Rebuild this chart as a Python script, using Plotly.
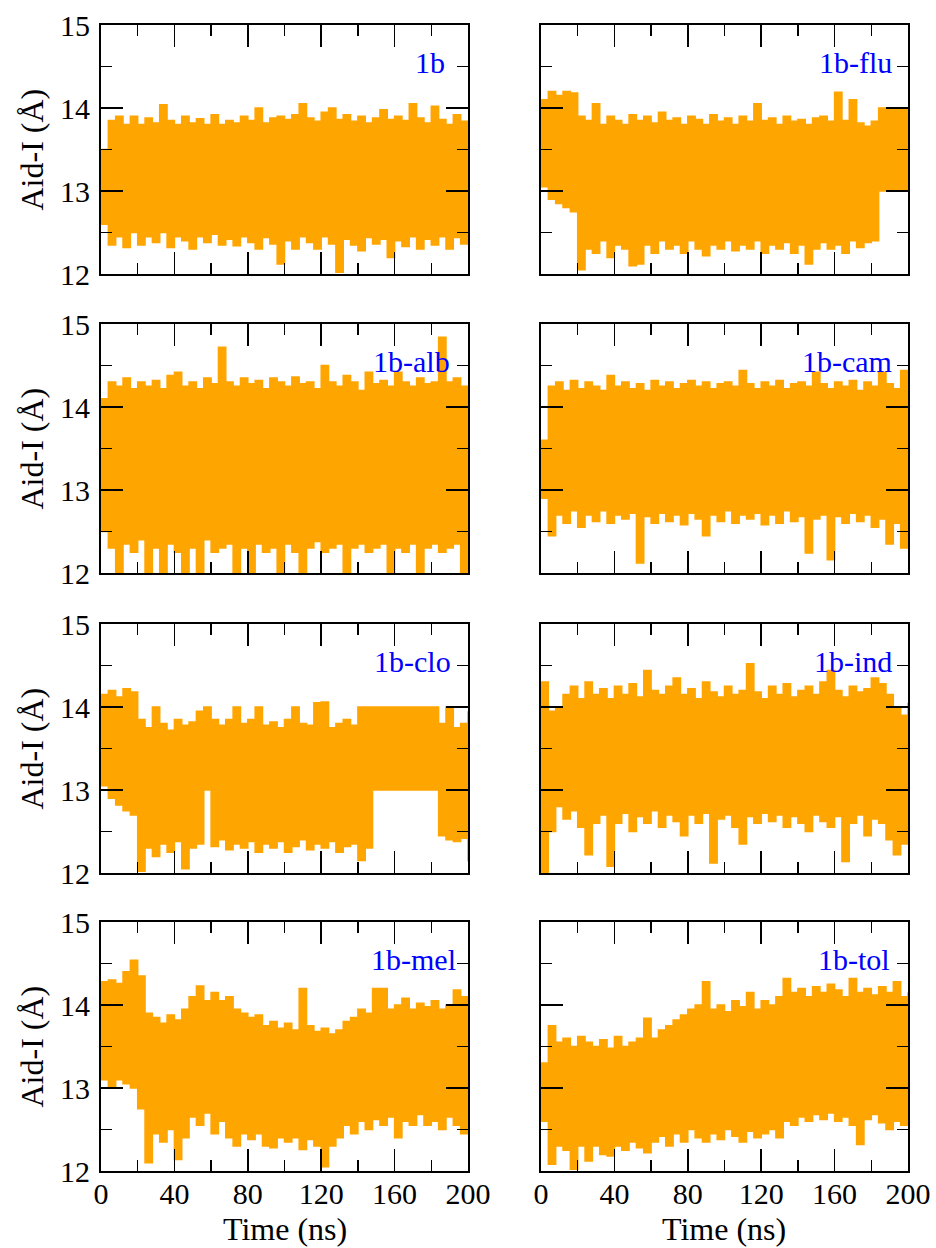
import plotly.graph_objects as go

# ---------------- data ----------------
TIME = list(range(0, 201, 4))  # ns

NAMES = ["1b", "1b-flu", "1b-alb", "1b-cam", "1b-clo", "1b-ind", "1b-mel", "1b-tol"]

hi_1b = [13.5, 13.85, 13.9, 13.8, 13.9, 13.8, 13.88, 13.82, 14.04, 13.85,
         13.8, 13.9, 13.82, 13.87, 13.8, 13.92, 13.8, 13.85, 13.82, 13.9,
         13.85, 14.0, 13.82, 13.88, 13.9, 13.86, 13.92, 14.05, 13.88, 13.84,
         13.95, 14.0, 13.86, 13.92, 13.84, 13.9, 13.82, 13.88, 13.98, 13.86,
         13.9, 13.85, 14.05, 13.88, 13.82, 14.02, 13.86, 13.8, 13.92, 13.84,
         13.82]
lo_1b = [12.6, 12.35, 12.45, 12.32, 12.5, 12.35, 12.45, 12.38, 12.5, 12.32,
         12.45, 12.4, 12.3, 12.45, 12.38, 12.48, 12.35, 12.42, 12.34, 12.45,
         12.38, 12.3, 12.44, 12.36, 12.12, 12.4, 12.3, 12.45, 12.38, 12.3,
         12.45, 12.36, 12.02, 12.42, 12.35, 12.28, 12.44, 12.36, 12.42, 12.2,
         12.4, 12.33, 12.45, 12.3, 12.42, 12.35, 12.45, 12.3, 12.44, 12.36,
         12.5]

hi_flu = [14.1, 14.2, 14.15, 14.2, 14.18, 13.9, 13.85, 14.05, 13.8, 13.9,
          13.85, 13.8, 13.92, 13.85, 13.9, 13.82, 13.95, 13.85, 13.88, 13.8,
          13.9, 13.86, 13.8, 13.92, 13.84, 13.88, 13.8, 13.9, 13.84, 14.05,
          13.85, 13.88, 13.8, 13.9, 13.84, 13.86, 13.8, 13.88, 13.9, 13.84,
          14.19, 13.85, 14.1, 13.82, 13.78, 13.84, 14.0, 14.0, 14.0, 14.0,
          14.0]
lo_flu = [13.05, 12.9, 12.85, 12.8, 12.75, 12.05, 12.3, 12.25, 12.4, 12.2,
          12.35, 12.3, 12.1, 12.12, 12.35, 12.25, 12.4, 12.3, 12.35, 12.25,
          12.4, 12.3, 12.22, 12.35, 12.3, 12.4, 12.28, 12.35, 12.3, 12.4,
          12.25, 12.35, 12.3, 12.38, 12.25, 12.35, 12.12, 12.3, 12.38, 12.3,
          12.35, 12.25, 12.4, 12.32, 12.38, 12.4, 13.0, 13.0, 13.0, 13.0,
          13.0]

hi_alb = [14.1, 14.3, 14.25, 14.35, 14.22, 14.3, 14.25, 14.32, 14.22, 14.38,
          14.42, 14.25, 14.3, 14.22, 14.35, 14.28, 14.72, 14.3, 14.25, 14.35,
          14.28, 14.32, 14.22, 14.35, 14.3, 14.25, 14.36, 14.28, 14.3, 14.22,
          14.5, 14.3, 14.25, 14.38, 14.3, 14.2, 14.42, 14.28, 14.32, 14.25,
          14.42, 14.3, 14.25, 14.35, 14.28, 14.3, 14.84, 14.3, 14.35, 14.25,
          14.1]
lo_alb = [12.5, 12.3, 12.0, 12.35, 12.25, 12.4, 12.0, 12.3, 12.0, 12.35,
          12.25, 12.0, 12.3, 12.0, 12.4, 12.25, 12.3, 12.35, 12.0, 12.3,
          12.0, 12.35, 12.25, 12.3, 12.0, 12.35, 12.25, 12.0, 12.3, 12.38,
          12.25, 12.3, 12.35, 12.0, 12.3, 12.35, 12.25, 12.3, 12.35, 12.0,
          12.3, 12.25, 12.35, 12.0, 12.3, 12.35, 12.25, 12.3, 12.35, 12.0,
          12.4]

hi_cam = [13.6, 14.25, 14.3, 14.2, 14.32, 14.22, 14.3, 14.25, 14.2, 14.38,
          14.25, 14.3, 14.22, 14.28, 14.2, 14.32, 14.25, 14.3, 14.22, 14.28,
          14.32, 14.25, 14.3, 14.22, 14.28, 14.3, 14.25, 14.44, 14.28, 14.22,
          14.3, 14.25, 14.32, 14.22, 14.28, 14.3, 14.25, 14.42, 14.28, 14.22,
          14.3, 14.25, 14.32, 14.2, 14.3, 14.25, 14.42, 14.28, 14.22, 14.44,
          14.2]
lo_cam = [12.9, 12.45, 12.7, 12.6, 12.75, 12.55, 12.7, 12.62, 12.75, 12.6,
          12.7, 12.65, 12.72, 12.12, 12.68, 12.6, 12.72, 12.62, 12.7, 12.58,
          12.72, 12.65, 12.45, 12.7, 12.62, 12.75, 12.6, 12.7, 12.65, 12.72,
          12.58, 12.7, 12.6, 12.75, 12.62, 12.68, 12.24, 12.65, 12.7, 12.16,
          12.68, 12.6, 12.72, 12.62, 12.7, 12.55, 12.65, 12.35, 12.6, 12.3,
          12.5]

hi_clo = [14.15, 14.2, 14.12, 14.22, 14.18, 13.85, 13.75, 14.0, 13.8, 13.72,
          13.85, 13.78, 13.82, 13.95, 14.0, 13.85, 13.78, 13.85, 14.0, 13.8,
          13.85, 14.0, 13.78, 13.82, 13.75, 13.85, 14.0, 13.8, 13.78, 14.05,
          14.06, 13.75, 13.8, 13.85, 13.78, 14.0, 14.0, 14.0, 14.0, 14.0,
          14.0, 14.0, 14.0, 14.0, 14.0, 14.0, 13.8, 14.0, 13.75, 13.8,
          13.95]
lo_clo = [13.05, 12.9, 12.82, 12.75, 12.7, 12.02, 12.3, 12.2, 12.35, 12.25,
          12.38, 12.05, 12.3, 12.35, 13.0, 12.32, 12.4, 12.28, 12.35, 12.3,
          12.38, 12.25, 12.35, 12.3, 12.38, 12.25, 12.32, 12.4, 12.28, 12.35,
          12.3, 12.38, 12.25, 12.32, 12.35, 12.15, 12.3, 13.0, 13.0, 13.0,
          13.0, 13.0, 13.0, 13.0, 13.0, 13.0, 12.45, 12.4, 12.38, 12.42,
          12.14]

hi_ind = [14.3, 13.95, 14.0, 14.15, 14.25, 14.1, 14.3, 14.15, 14.22, 14.1,
          14.25, 14.15, 14.28, 14.12, 14.44, 14.2, 14.15, 14.25, 14.35, 14.15,
          14.22, 14.1, 14.3, 14.18, 14.12, 14.25, 14.15, 14.2, 14.52, 14.18,
          14.1, 14.25, 14.15, 14.28, 14.12, 14.2, 14.25, 14.15, 14.3, 14.44,
          14.2, 14.12, 14.25, 14.18, 14.22, 14.35, 14.28, 14.15, 14.0, 13.9,
          14.05]
lo_ind = [12.0, 12.5, 12.8, 12.65, 12.75, 12.55, 12.22, 12.6, 12.7, 12.08,
          12.6, 12.72, 12.5, 12.68, 12.6, 12.75, 12.55, 12.7, 12.62, 12.45,
          12.7, 12.6, 12.72, 12.12, 12.65, 12.7, 12.55, 12.35, 12.68, 12.6,
          12.72, 12.62, 12.7, 12.55, 12.68, 12.6, 12.5, 12.7, 12.62, 12.55,
          12.68, 12.14, 12.6, 12.7, 12.45, 12.65, 12.6, 12.4, 12.22, 12.35,
          12.5]

hi_mel = [14.28, 14.3, 14.26, 14.4, 14.54, 14.35, 13.9, 13.85, 13.78, 13.88,
          13.82, 13.95, 14.1, 14.23, 14.05, 14.15, 14.05, 14.1, 13.95, 13.9,
          13.85, 13.88, 13.75, 13.8, 13.72, 13.78, 13.7, 14.2, 13.75, 13.68,
          13.72, 13.65, 13.7, 13.8, 13.85, 13.95, 13.9, 14.2, 14.2, 13.95,
          14.0, 14.08, 13.95, 14.02, 13.98, 14.05, 13.95, 14.0, 14.18, 14.1,
          14.05]
lo_mel = [13.1, 13.0, 13.1, 13.05, 13.0, 12.75, 12.1, 12.45, 12.35, 12.5,
          12.14, 12.4, 12.65, 12.55, 12.7, 12.45, 12.6, 12.4, 12.3, 12.45,
          12.38, 12.45, 12.3, 12.28, 12.4, 12.35, 12.4, 12.26, 12.38, 12.3,
          12.05, 12.3, 12.4, 12.55, 12.45, 12.6, 12.5, 12.62, 12.55, 12.65,
          12.4, 12.6, 12.55, 12.68, 12.55, 12.6, 12.5, 12.65, 12.55, 12.45,
          12.6]

hi_tol = [13.3, 13.75, 13.55, 13.6, 13.5, 13.62, 13.55, 13.5, 13.58, 13.48,
          13.62, 13.5, 13.55, 13.6, 13.84, 13.6, 13.7, 13.75, 13.82, 13.88,
          13.95, 14.0, 14.28, 13.95, 14.0, 13.92, 14.05, 13.98, 14.15, 13.95,
          14.05, 14.0, 14.1, 14.32, 14.15, 14.2, 14.1, 14.22, 14.15, 14.25,
          14.18, 14.1, 14.32, 14.15, 14.2, 14.12, 14.22, 14.15, 14.28, 14.1,
          14.15]
lo_tol = [12.6, 12.08, 12.3, 12.25, 12.02, 12.3, 12.12, 12.3, 12.2, 12.18,
          12.3, 12.25, 12.35, 12.28, 12.22, 12.35, 12.42, 12.3, 12.45, 12.35,
          12.5, 12.4, 12.35, 12.45, 12.38, 12.5, 12.42, 12.35, 12.48, 12.4,
          12.45, 12.5, 12.4, 12.6, 12.55, 12.65, 12.6, 12.68, 12.62, 12.7,
          12.6, 12.65, 12.55, 12.32, 12.62, 12.68, 12.58, 12.5, 12.6, 12.55,
          12.6]

HIGHS = [hi_1b, hi_flu, hi_alb, hi_cam, hi_clo, hi_ind, hi_mel, hi_tol]
LOWS = [lo_1b, lo_flu, lo_alb, lo_cam, lo_clo, lo_ind, lo_mel, lo_tol]

X_TICKS = [0, 40, 80, 120, 160, 200]
Y_TICKS = [12, 13, 14, 15]

# ---------------- style ----------------
W, H = 936, 1248
ORANGE = "#FFA500"
BLUE = "#0000FF"
FONT = "Liberation Serif, Times New Roman, serif"
FS = 30
FS_TITLE = 32

XDOM = [(101 / W, 468 / W), (541 / W, 908 / W)]
ROWS_PX = [(25, 274), (324, 573), (624, 873), (922, 1171)]
YDOM = [(1 - b / H, 1 - t / H) for (t, b) in ROWS_PX]
LABEL_X = [0.942, 0.962, 0.956, 0.962, 0.96, 0.962, 0.974, 0.957]

fig = go.Figure()
layout = dict(
    template="none",
    width=W, height=H, autosize=False, margin=dict(l=0, r=0, t=0, b=0, pad=0),
    paper_bgcolor="white", plot_bgcolor="white", showlegend=False,
    font=dict(family=FONT, size=FS, color="black"),
)
annotations = []

for i, name in enumerate(NAMES):
    n = i + 1
    row, col = divmod(i, 2)
    xa = "x" if n == 1 else f"x{n}"
    ya = "y" if n == 1 else f"y{n}"
    line = dict(color=ORANGE, width=1.5, shape="hv")
    fig.add_trace(go.Scatter(x=TIME, y=HIGHS[i], mode="lines", line=line,
                             xaxis=xa, yaxis=ya, hoverinfo="skip"))
    fig.add_trace(go.Scatter(x=TIME, y=LOWS[i], mode="lines", line=line,
                             fill="tonexty", fillcolor=ORANGE,
                             xaxis=xa, yaxis=ya, hoverinfo="skip"))
    common = dict(showline=True, linecolor="black", linewidth=2, mirror="ticks",
                  ticks="inside", ticklen=22, tickwidth=1.5, tickcolor="black",
                  showgrid=False, zeroline=False, fixedrange=True, automargin=False,
                  tickfont=dict(family=FONT, size=FS, color="black"))
    layout[f"xaxis{n}"] = dict(
        common, domain=list(XDOM[col]), anchor=ya, range=[0, 200],
        tickvals=X_TICKS, showticklabels=(row == 3), ticklabelstandoff=-5,
        minor=dict(ticks="inside", ticklen=11, tickwidth=1.5, tickcolor="black",
                   dtick=20, tick0=0, showgrid=False))
    layout[f"yaxis{n}"] = dict(
        common, domain=list(YDOM[row]), anchor=xa, range=[12, 15],
        tickvals=Y_TICKS, showticklabels=(col == 0), ticklabelstandoff=3,
        minor=dict(ticks="inside", ticklen=11, tickwidth=1.5, tickcolor="black",
                   dtick=0.5, tick0=12, showgrid=False))
    annotations.append(dict(text=name, xref=f"{xa} domain", yref=ya,
                            x=LABEL_X[i], y=14.55, xanchor="right", yanchor="middle",
                            showarrow=False, font=dict(family=FONT, size=FS, color=BLUE)))
    if col == 0:
        yc = (YDOM[row][0] + YDOM[row][1]) / 2
        annotations.append(dict(text="Aid-I (Å)", xref="paper", yref="paper",
                                x=31 / W, y=yc, xanchor="center", yanchor="middle",
                                textangle=-90, showarrow=False,
                                font=dict(family=FONT, size=FS_TITLE, color="black")))
    if row == 3:
        xc = (XDOM[col][0] + XDOM[col][1]) / 2
        annotations.append(dict(text="Time (ns)", xref="paper", yref="paper",
                                x=xc, y=1 - 1229 / H, xanchor="center",
                                yanchor="middle", showarrow=False,
                                font=dict(family=FONT, size=FS_TITLE, color="black")))

layout["annotations"] = annotations
fig.update_layout(**layout)
# remove the default 8 px page margin so the figure fills the window exactly
fig.write_html("out.html",
               config={"displayModeBar": False, "staticPlot": True},
               post_script="document.body.style.margin='0';"
                           "document.body.style.overflow='hidden';")
